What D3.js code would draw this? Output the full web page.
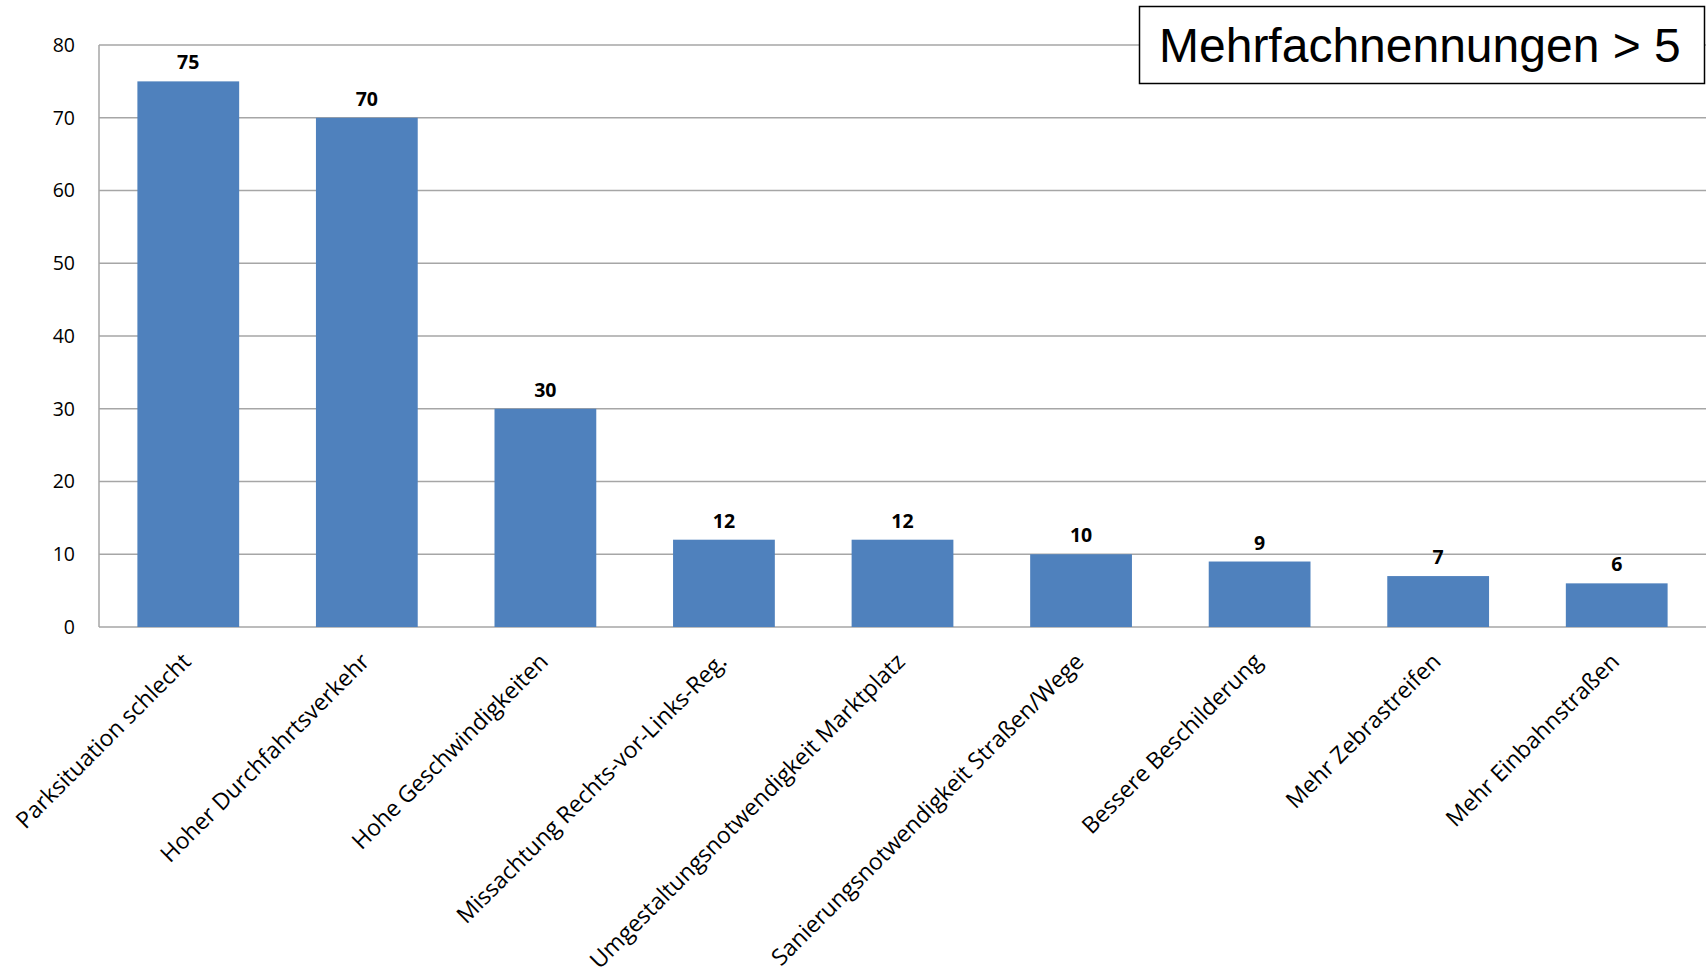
<!DOCTYPE html>
<html>
<head>
<meta charset="utf-8">
<script src="https://cdn.jsdelivr.net/npm/d3@7"></script>
<style>
  body { margin: 0; background: #fff; }
  svg { display: block; }
</style>
</head>
<body>
<div id="chart"></div>
<script>
var categories = [
  'Parksituation schlecht',
  'Hoher Durchfahrtsverkehr',
  'Hohe Geschwindigkeiten',
  'Missachtung Rechts-vor-Links-Reg.',
  'Umgestaltungsnotwendigkeit Marktplatz',
  'Sanierungsnotwendigkeit Straßen/Wege',
  'Bessere Beschilderung',
  'Mehr Zebrastreifen',
  'Mehr Einbahnstraßen'
];
var values = [75, 70, 30, 12, 12, 10, 9, 7, 6];
var yTicks = [0, 10, 20, 30, 40, 50, 60, 70, 80];
var title = 'Mehrfachnennungen > 5';

var width = 1706, height = 974;
var margin = {top: 45, right: 0, bottom: 347, left: 99};
var font = '"Open Sans", "Noto Sans", sans-serif';

var svg = d3.select('#chart').append('svg')
    .attr('width', width)
    .attr('height', height);

var x = d3.scaleBand()
    .domain(categories)
    .range([margin.left, width - margin.right])
    .paddingInner(0.43)
    .paddingOuter(0.215);

var y = d3.scaleLinear()
    .domain([0, 80])
    .range([height - margin.bottom, margin.top]);

// gridlines
svg.append('g')
    .selectAll('line')
    .data(yTicks)
  .enter().append('line')
    .attr('x1', margin.left)
    .attr('x2', width)
    .attr('y1', function(d) { return y(d); })
    .attr('y2', function(d) { return y(d); })
    .attr('stroke', '#a6a6a6')
    .attr('stroke-width', 1.5);

// left axis line
svg.append('line')
    .attr('x1', margin.left).attr('x2', margin.left)
    .attr('y1', y(80)).attr('y2', y(0))
    .attr('stroke', '#a6a6a6')
    .attr('stroke-width', 1.5);

// y tick labels
var yAxis = svg.append('g')
    .attr('transform', 'translate(' + (margin.left - 24) + ',0)')
    .call(d3.axisLeft(y).tickValues(yTicks).tickSize(0).tickPadding(0));
yAxis.select('.domain').remove();
yAxis.selectAll('text')
    .style('font-family', font)
    .style('font-size', '19.5px')
    .attr('fill', '#000');

// bars
svg.append('g')
    .selectAll('rect')
    .data(values)
  .enter().append('rect')
    .attr('x', function(d, i) { return x(categories[i]); })
    .attr('y', function(d) { return y(d); })
    .attr('width', x.bandwidth())
    .attr('height', function(d) { return y(0) - y(d); })
    .attr('fill', '#4f81bd');

// value labels
svg.append('g')
    .selectAll('text')
    .data(values)
  .enter().append('text')
    .attr('x', function(d, i) { return x(categories[i]) + x.bandwidth() / 2; })
    .attr('y', function(d) { return y(d) - 12; })
    .attr('text-anchor', 'middle')
    .style('font-family', font)
    .style('font-size', '19.5px')
    .style('font-weight', 'bold')
    .text(function(d) { return d; });

// category labels, rotated
svg.append('g')
    .selectAll('text')
    .data(categories)
  .enter().append('text')
    .attr('transform', function(d) {
      return 'translate(' + (x(d) + x.bandwidth() / 2 + 4) + ',' + (y(0) + 36) + ') rotate(-45)';
    })
    .attr('text-anchor', 'end')
    .style('font-family', font)
    .style('font-size', '23px')
    .text(function(d) { return d; });

// title box
var box = svg.append('g');
box.append('rect')
    .attr('x', 1139.5).attr('y', 6.5)
    .attr('width', 565).attr('height', 77)
    .attr('fill', '#fff')
    .attr('stroke', '#000')
    .attr('stroke-width', 1.5);
box.append('text')
    .attr('x', 1159).attr('y', 62)
    .style('font-family', '"Liberation Sans", Arial, sans-serif')
    .style('font-size', '48px')
    .text(title);
</script>
</body>
</html>
